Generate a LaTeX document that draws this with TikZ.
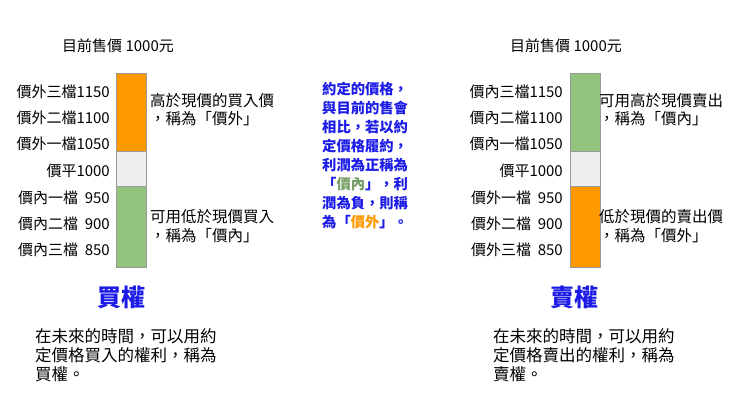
\documentclass[tikz,border=0pt]{standalone}
\usepackage{fontspec}
\setmainfont{Noto Sans CJK TC}
\definecolor{org}{HTML}{FF9900}
\definecolor{grn}{HTML}{93C47D}
\definecolor{gry}{HTML}{EFEFEF}
\definecolor{blu}{HTML}{1C1CE6}
\definecolor{brd}{HTML}{999999}
\begin{document}
\begin{tikzpicture}[x=1pt,y=-1pt,
  lab/.style={anchor=east,font=\fontsize{15}{17}\selectfont,inner sep=0},
  txt/.style={anchor=west,font=\fontsize{15.5}{17}\selectfont,inner sep=0},
  btm/.style={anchor=west,font=\fontsize{16.5}{18}\selectfont,inner sep=0},
  mid/.style={anchor=west,font=\fontsize{14.3}{16}\selectfont\bfseries,text=blu,inner sep=0},
  ttl/.style={font=\fontsize{24}{26}\selectfont\bfseries,text=blu},
  seg/.style={draw=brd,line width=0.5pt}]
\useasboundingbox (0,0) rectangle (740,405);
% left bar
\fill[org] (116,73) rectangle (146,151);
\fill[gry] (116,151) rectangle (146,186);
\fill[grn] (116,186) rectangle (146,267);
\draw[seg] (116,73) rectangle (146,267);
\draw[seg] (116,151) -- (146,151) (116,186) -- (146,186);
% right bar
\fill[grn] (570,73) rectangle (600,151);
\fill[gry] (570,151) rectangle (600,186);
\fill[org] (570,186) rectangle (600,267);
\draw[seg] (570,73) rectangle (600,267);
\draw[seg] (570,151) -- (600,151) (570,186) -- (600,186);
\node[font=\fontsize{15}{17}\selectfont] (hl) at (118,46) {目前售價 1000元};
\node[font=\fontsize{15}{17}\selectfont] (hr) at (566,46) {目前售價 1000元};
\node[lab] (l1) at (110,92) {價外三檔1150};
\node[lab] (l2) at (110,118) {價外二檔1100};
\node[lab] (l3) at (110,144) {價外一檔1050};
\node[lab] (l4) at (110,171) {價平1000};
\node[lab] (l5) at (110,198) {價內一檔\ \ 950};
\node[lab] (l6) at (110,224) {價內二檔\ \ 900};
\node[lab] (l7) at (110,250) {價內三檔\ \ 850};
\node[lab] (r1) at (563,92) {價內三檔1150};
\node[lab] (r2) at (563,118) {價內二檔1100};
\node[lab] (r3) at (563,144) {價內一檔1050};
\node[lab] (r4) at (563,171) {價平1000};
\node[lab] (r5) at (563,198) {價外一檔\ \ 950};
\node[lab] (r6) at (563,224) {價外二檔\ \ 900};
\node[lab] (r7) at (563,250) {價外三檔\ \ 850};
\node[txt] (a1) at (150,101) {高於現價的買入價};
\node[txt] (a2) at (150,119) {，稱為「價外」};
\node[txt] (a3) at (150,217) {可用低於現價買入};
\node[txt] (a4) at (150,236) {，稱為「價內」};
\node[txt] (b1) at (599,101) {可用高於現價賣出};
\node[txt] (b2) at (599,119) {，稱為「價內」};
\node[txt] (b3) at (599,217) {低於現價的賣出價};
\node[txt] (b4) at (599,236) {，稱為「價外」};
\node[mid] (m1) at (322,89) {約定的價格，};
\node[mid] (m2) at (322,108) {與目前的售會};
\node[mid] (m3) at (322,127) {相比，若以約};
\node[mid] (m4) at (322,146) {定價格履約，};
\node[mid] (m5) at (322,165) {利潤為正稱為};
\node[mid] (m6) at (322,184) {「\textcolor{grn!80!black}{價內}」，利};
\node[mid] (m7) at (322,203) {潤為負，則稱};
\node[mid] (m8) at (322,222) {為「\textcolor{org}{價外}」。};
\node[ttl] (t1) at (121,297) {買權};
\node[ttl] (t2) at (574,297) {賣權};
\node[btm] (c1) at (35,336) {在未來的時間，可以用約};
\node[btm] (c2) at (35,355) {定價格買入的權利，稱為};
\node[btm] (c3) at (35,374) {買權。};
\node[btm] (d1) at (493,336) {在未來的時間，可以用約};
\node[btm] (d2) at (493,355) {定價格賣出的權利，稱為};
\node[btm] (d3) at (493,374) {賣權。};
\end{tikzpicture}
\end{document}
